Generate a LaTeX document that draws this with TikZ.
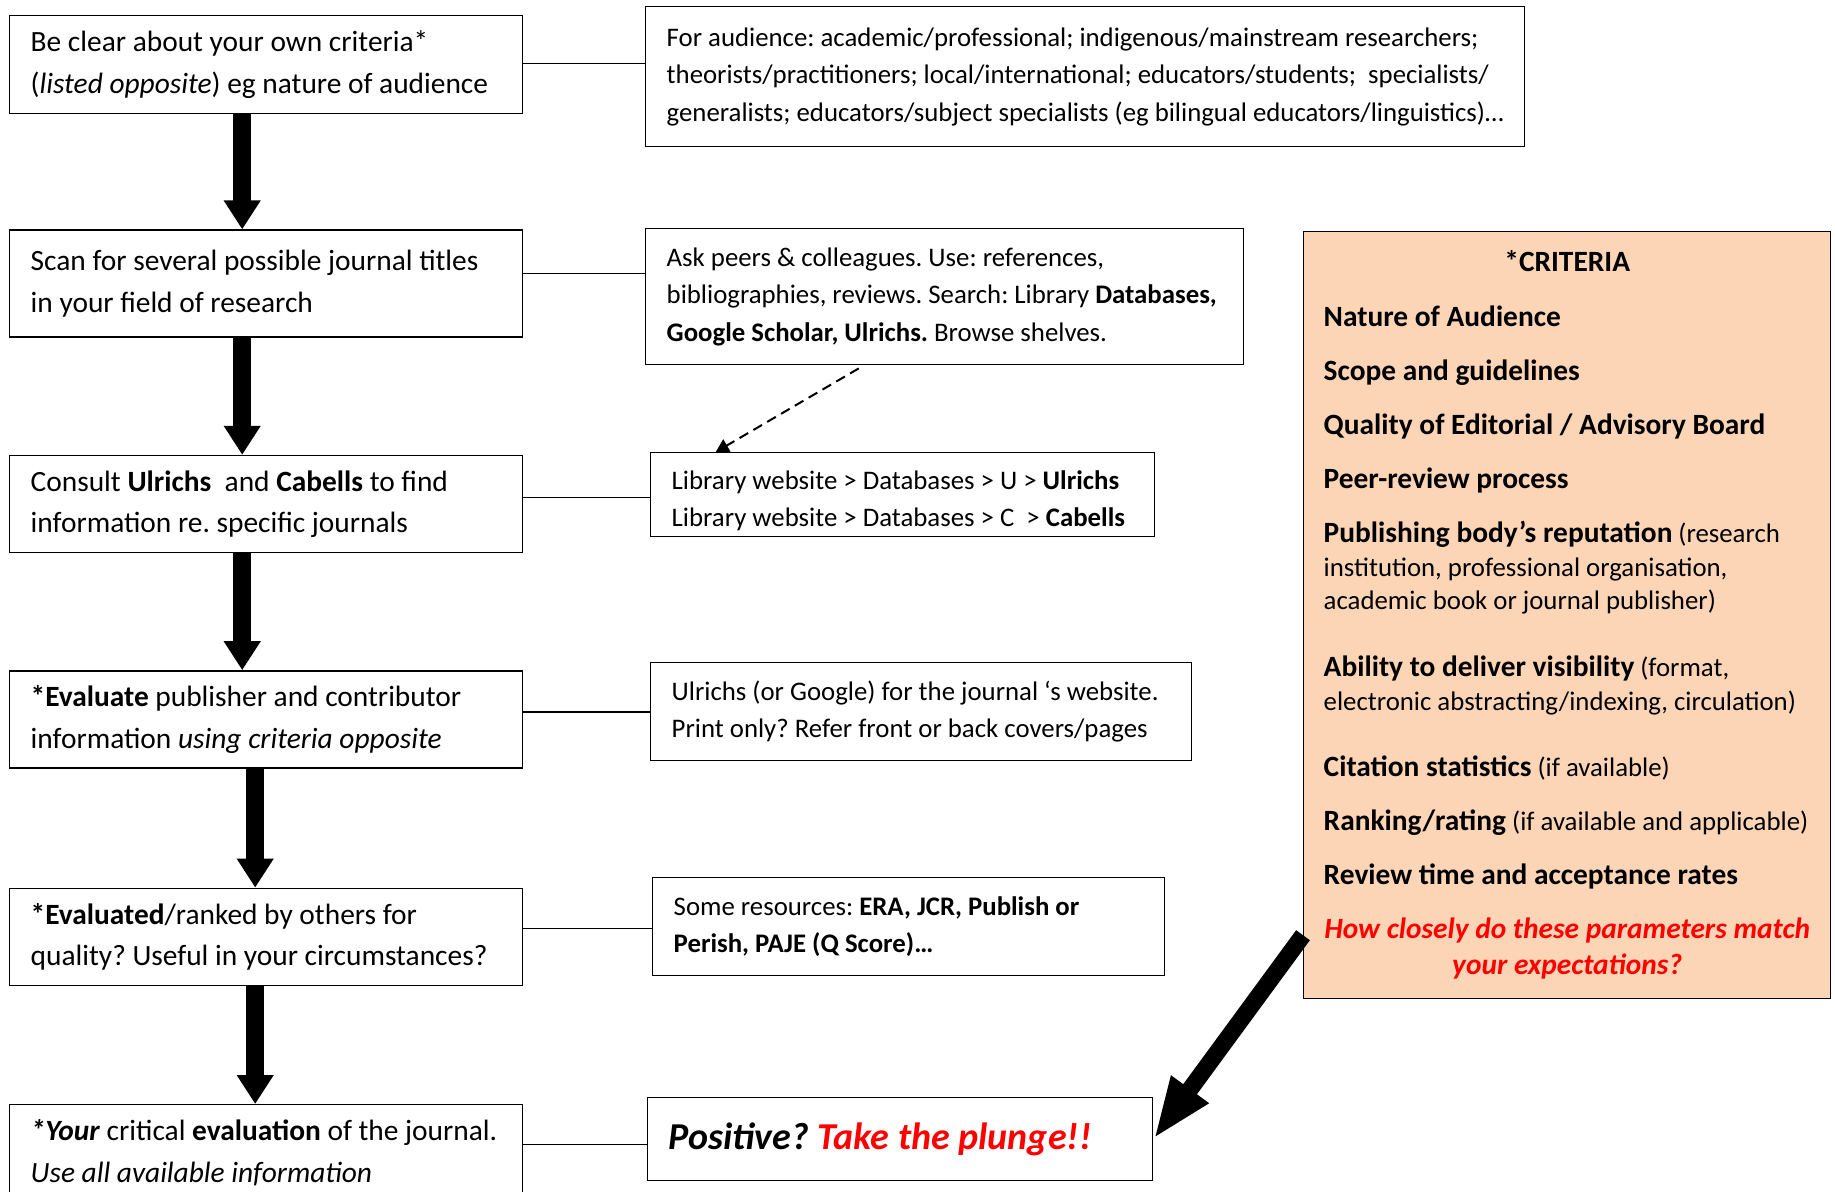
\documentclass[tikz,border=0pt]{standalone}
\usepackage{fontspec}
\setmainfont{Carlito}
\usepackage{xcolor}
\usepackage{tikz}
\usetikzlibrary{arrows.meta,positioning}
\frenchspacing
\definecolor{peach}{RGB}{251,213,181}
\newcommand{\critem}[1]{{\fontsize{14.7}{16.8}\selectfont\textbf{#1}}}
\tikzset{>=Stealth}
\tikzset{flow node/.style={draw,line width=0.7pt,anchor=north west,align=flush left,inner xsep=10.5pt,inner ysep=0pt,
                           text width=235.5pt,font=\fontsize{14.7}{20.75}\selectfont},
         note node/.style={draw,line width=0.7pt,anchor=north west,align=flush left,inner xsep=10.5pt,inner ysep=0pt,
                           font=\fontsize{13.4}{18.75}\selectfont},
         crit node/.style={draw,line width=0.7pt,fill=peach,anchor=north west,align=flush left,inner xsep=10pt,inner ysep=0pt,
                           text width=243.5pt,minimum height=383.5pt,font=\fontsize{13.4}{16.8}\selectfont},
         big arrow/.style={line width=9pt,-{Triangle[length=14.5pt,width=17.5pt]}},
            }

\begin{document}
\begin{tikzpicture}[x=0.5pt,y=-0.5pt]

    \useasboundingbox (0,0) rectangle (1835,1191);
    \clip (0,0) rectangle (1835,1191);

    \node[flow node,minimum height=49pt] (s1) at (9,15)
        {Be clear about your own criteria*\\(\textit{listed opposite}) eg nature of audience};
    \node[flow node,minimum height=53.5pt,below=57.5pt of s1] (s2)
        {Scan for several possible journal titles\\in your field of research};
    \node[flow node,minimum height=48.5pt,below=58.5pt of s2] (s3)
        {Consult \textbf{Ulrichs}\ \ and \textbf{Cabells} to find\\information re. specific journals};
    \node[flow node,minimum height=48.5pt,below=58.5pt of s3] (s4)
        {\textbf{*Evaluate} publisher and contributor\\information \textit{using criteria opposite}};
    \node[flow node,minimum height=48.5pt,below=59.5pt of s4] (s5)
        {\textbf{*Evaluated}/ranked by others for\\quality? Useful in your circumstances?};
    \node[flow node,minimum height=48pt,below=59pt of s5] (s6)
        {\textbf{\textit{*Your}} critical \textbf{evaluation} of the journal.\\\textit{Use all available information}};

    \node[note node,text width=418.5pt,minimum height=70pt] (n1) at (645,6)
        {For audience: academic/professional; indigenous/mainstream researchers;\\
         theorists/practitioners; local/international; educators/students;\ \ specialists/\\
         generalists; educators/subject specialists (eg bilingual educators/linguistics)\dots};
    \node[note node,text width=278pt,minimum height=68pt] (n2) at (645,228)
        {Ask peers \& colleagues. Use: references,\\
         bibliographies, reviews. Search: Library \textbf{Databases,}\\
         \textbf{Google Scholar, Ulrichs.} Browse shelves.};
    \node[note node,text width=231pt,minimum height=42pt,text height=15.5pt] (n3) at (650,452)
        {Library website > Databases > U > \textbf{Ulrichs}\\
         Library website > Databases > C\ \ > \textbf{Cabells}};
    \node[note node,text width=249.5pt,minimum height=49pt] (n4) at (650,662)
        {Ulrichs (or Google) for the journal ‘s website.\\
         Print only? Refer front or back covers/pages};
    \node[note node,text width=235pt,minimum height=49pt] (n5) at (652,877)
        {Some resources: \textbf{ERA, JCR, Publish or}\\
         \textbf{Perish, PAJE (Q Score)\dots}};
    \node[note node,text width=231.5pt,minimum height=41.5pt,font=\fontsize{19}{20}\selectfont] (n6) at (647,1097)
        {\textbf{\textit{Positive? \textcolor{red}{Take the plunge!!}}}};

    \node[crit node] (crit) at (1303,231)
        {\makebox[\linewidth]{\critem{*CRITERIA}}\\[10.5pt]
         \critem{Nature of Audience}\\[10.2pt]
         \critem{Scope and guidelines}\\[10.2pt]
         \critem{Quality of Editorial / Advisory Board}\\[10.2pt]
         \critem{Peer-review process}\\[10.2pt]
         \critem{Publishing body’s reputation} (research\\
         institution, professional organisation,\\
         academic book or journal publisher)\\[16.6pt]
         \critem{Ability to deliver visibility} (format,\\
         \mbox{electronic abstracting/indexing, circulation)}\\[16.6pt]
         \critem{Citation statistics} (if available)\\[10.2pt]
         \mbox{\critem{Ranking/rating} (if available and applicable)}\\[10.2pt]
         \critem{Review time and acceptance rates}\\[10.2pt]
         \makebox[\linewidth]{\textcolor{red}{\critem{\textit{How closely do these parameters match}}}}\\[1.2pt]
         \makebox[\linewidth]{\textcolor{red}{\critem{\textit{your expectations?}}}}};

    \path[draw,line width=0.6pt]
    ([yshift=0.5pt]s1.east) edge ([yshift=0.5pt]s1.east -| n1.west)
    ([yshift=5.2pt]s2.east) edge ([yshift=5.2pt]s2.east -| n2.west)
    ([yshift=3.2pt]s3.east) edge ([yshift=3.2pt]s3.east -| n3.west)
    ([yshift=3.7pt]s4.east) edge ([yshift=3.7pt]s4.east -| n4.west)
    ([yshift=4.2pt]s5.east) edge ([yshift=4.2pt]s5.east -| n5.west)
    ([yshift=4pt]s6.east) edge ([yshift=4pt]s6.east -| n6.west);

    \path[draw]
    ([xshift=-12pt]s1.south) edge[big arrow] ([xshift=-12pt]s2.north)
    ([xshift=-12pt]s2.south) edge[big arrow] ([xshift=-12pt]s3.north)
    ([xshift=-12pt]s3.south) edge[big arrow] ([xshift=-12pt]s4.north)
    ([xshift=-5.5pt]s4.south) edge[big arrow] ([xshift=-5.5pt]s5.north)
    ([xshift=-5.5pt]s5.south) edge[big arrow] ([xshift=-5.5pt]s6.north);

    \path[draw]
    ([yshift=-160pt]crit.west) edge[line width=8.5pt,-{Triangle[length=31pt,width=21pt]}] (n6.east);

    \path[draw]
    ([xshift=-43pt,yshift=-1.5pt]n2.south) edge[line width=1pt,dash pattern=on 5pt off 3pt,-{Triangle[length=6.5pt,width=7pt]}] ([xshift=-93.5pt]n3.north);

\end{tikzpicture}
\end{document}
